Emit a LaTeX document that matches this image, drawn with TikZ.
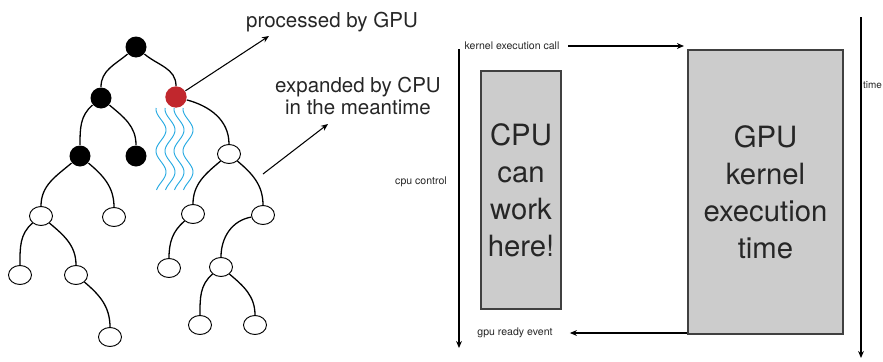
\documentclass[tikz,border=0pt]{standalone}
\usepackage{fontspec}
\setmainfont{TeX Gyre Heros}
\usepackage{xcolor}
\usetikzlibrary{arrows.meta,positioning,shapes.geometric}
\definecolor{wavecol}{RGB}{41,171,226}
\definecolor{gpured}{RGB}{193,39,45}

\begin{document}
\begin{tikzpicture}[x=0.03cm,y=-0.03cm,
  done/.style={circle, fill=black, minimum size=0.63cm, inner sep=0pt},
  busy/.style={circle, fill=gpured, minimum size=0.64cm, inner sep=0pt},
  open/.style={ellipse, draw, line width=0.8pt, fill=white, minimum width=0.69cm,
    minimum height=0.57cm, inner sep=0pt},
  lc/.style={out=-140,in=90},
  rc/.style={out=-40,in=90},
  edge/.style={line width=1.1pt},
  wave/.style={wavecol, line width=0.8pt},
  note/.style={font=\fontsize{17.5}{19.6}\selectfont, text=black!85, align=center},
  tiny/.style={font=\fontsize{9}{10}\selectfont, text=black!85},
  timebox/.style={rectangle, draw=black!75, line width=0.9pt, fill=black!20,
    font=\fontsize{25}{31.5}\selectfont, text=black!85, align=center},
  ->,>={Stealth[length=6pt,width=5pt]},line width=0.9pt
]
  \useasboundingbox (0,0) rectangle (883,362);

  % search tree
  \node[done] (r) at (136,47) {};
  \node[done] (a) at (101,98) {};
  \node[busy] (red) at (176,97) {};
  \node[done] (b) at (80,156) {};
  \node[done] (c) at (136,156) {};
  \node[open] (d) at (229,154) {};
  \node[open] (e) at (41,216) {};
  \node[open] (f) at (114,217) {};
  \node[open] (g) at (193,214) {};
  \node[open] (h) at (263,215) {};
  \node[open] (i) at (20,275) {};
  \node[open] (j) at (76,275) {};
  \node[open] (k) at (110,337) {};
  \node[open] (l) at (169,268) {};
  \node[open] (m) at (221,267) {};
  \node[open] (n) at (200,325) {};
  \node[open] (o) at (255,325) {};

  \begin{scope}[-, edge]
    \draw (r) to[lc] (a);
    \draw (r) to[rc] (red);
    \draw (a) to[lc] (b);
    \draw (a) to[rc] (c);
    \draw (red) to[out=-15,in=90] (d);
    \draw (b) to[lc] (e);
    \draw (b) to[rc] (f);
    \draw (d) to[lc] (g);
    \draw (d) to[rc] (h);
    \draw (e) to[lc] (i);
    \draw (e) to[rc] (j);
    \draw (j) to[rc] (k);
    \draw (g) to[lc] (l);
    \draw (h) to[out=-170,in=90] (m);
    \draw (m) to[lc] (n);
    \draw (m) to[rc] (o);
  \end{scope}

  \foreach \c in {161,170,179,188}
    \draw[-, wave] plot[domain=0:82, samples=60, smooth]
      ({\c+5*sin(\x*8.5714-99)}, {\x+108});

  \node[note] (gputxt) at (332,22) {processed by GPU};
  \node[note] (cputxt) at (358,96) {expanded by CPU\\in the meantime};
  \coordinate (gpuend) at (269,36);
  \coordinate (expfrom) at (263,174);
  \coordinate (expend) at (328,124);
  \draw (red) -- (gpuend);
  \draw (expfrom) -- (expend);

  % timeline
  \node[timebox, minimum width=2.4cm, minimum height=7.14cm] (cpu) at (521,190)
    {CPU\\can\\work\\here!};
  \node[timebox, minimum width=4.65cm, minimum height=8.52cm] (gpu) at (765.5,192)
    {GPU\\kernel\\execution\\time};

  \coordinate (ctop) at (459,49);
  \coordinate (cbot) at (459,348);
  \coordinate (ttop) at (861,17);
  \coordinate (tbot) at (861,358);
  \draw (ctop) -- (cbot);
  \draw (ttop) -- (tbot);

  \node[tiny] (cctl) at (421,182) {cpu control};
  \node[tiny, font=\fontsize{8.5}{10}\selectfont, inner sep=0pt, anchor=west]
    (tlabel) at (862.5,85) {time};
  \node[tiny] (kcall) at (512,46) {kernel execution call};
  \node[tiny] (gready) at (515,333) {gpu ready event};

  \draw[shorten <=4pt, shorten >=3pt] (kcall.east) -- (kcall.east -| gpu.west);
  \draw[shorten >=11pt] (gpu.west |- gready.east) -- (gready.east);
\end{tikzpicture}
\end{document}
